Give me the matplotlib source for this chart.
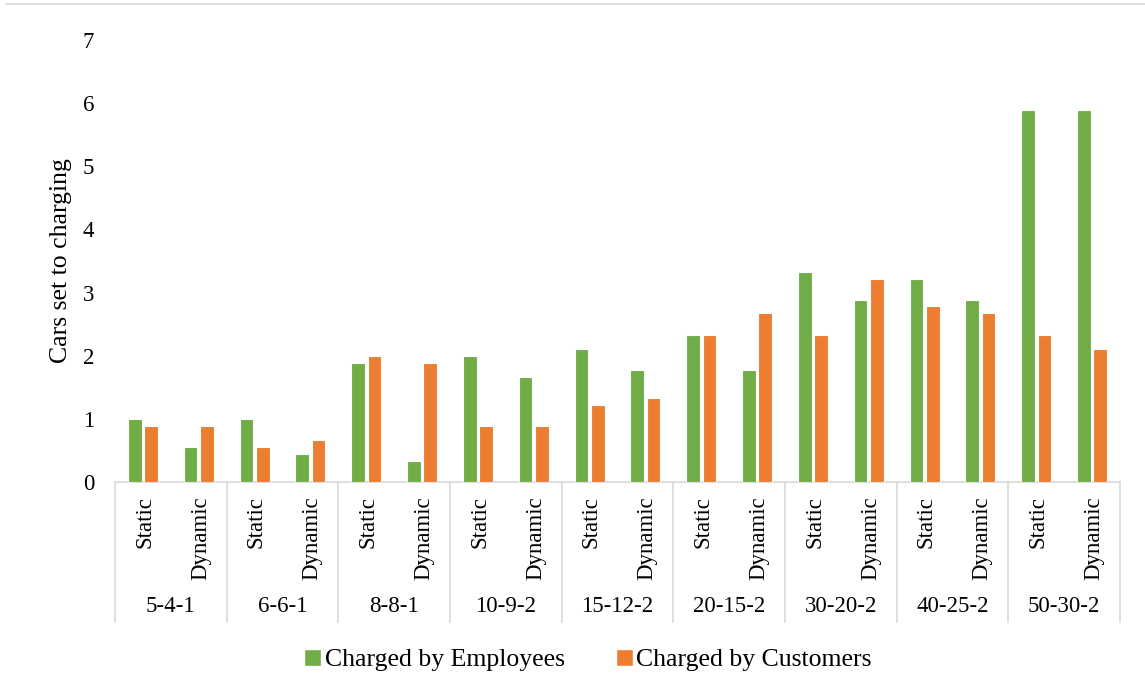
import matplotlib
matplotlib.use("Agg")
import matplotlib.pyplot as plt
from matplotlib.lines import Line2D
from matplotlib.patches import Patch
import matplotlib.transforms as mtransforms
import numpy as np

# Configurations (stations-chargers-staff) and charging modes
configs = ["5-4-1", "6-6-1", "8-8-1", "10-9-2", "15-12-2",
           "20-15-2", "30-20-2", "40-25-2", "50-30-2"]
modes = ["Static", "Dynamic"]

# Average number of cars set to charging, per configuration and mode
employees = [1.00, 0.56, 1.00, 0.44, 1.89, 0.33, 2.00, 1.67, 2.11,
             1.78, 2.33, 1.78, 3.33, 2.89, 3.22, 2.89, 5.89, 5.89]
customers = [0.89, 0.89, 0.56, 0.67, 2.00, 1.89, 0.89, 0.89, 1.22,
             1.33, 2.33, 2.67, 2.33, 3.22, 2.78, 2.67, 2.33, 2.11]

GREEN = "#70AD47"
ORANGE = "#ED7D31"
GRID = "#D9D9D9"
FONT = "Liberation Serif"

plt.rcParams["font.family"] = [FONT, "DejaVu Serif"]

W, H = 1145, 700
fig = plt.figure(figsize=(W / 100, H / 100), dpi=100)
ax = fig.add_axes([115 / W, 1 - 482 / H, (1120 - 115) / W, (482 - 40) / H])

n = len(employees)
x = np.arange(n)
bw = 0.245
off = 0.145
ax.bar(x - off, employees, bw, color=GREEN, edgecolor="white", linewidth=0.8, zorder=3)
ax.bar(x + off, customers, bw, color=ORANGE, edgecolor="white", linewidth=0.8, zorder=3)

ax.set_xlim(-0.5, n - 0.5)
ax.set_ylim(0, 7)
ax.set_yticks(range(0, 8))
ax.tick_params(axis="y", length=0, pad=15, labelsize=16.5)
ax.set_xticks([])
for s in ["top", "right", "left"]:
    ax.spines[s].set_visible(False)
ax.spines["bottom"].set_color(GRID)
ax.spines["bottom"].set_linewidth(1.2)

# Two-level category axis below the plot
px = 1 / (482 - 40)
trans = mtransforms.blended_transform_factory(ax.transData, ax.transAxes)
for i in range(n):
    ax.text(i + 0.03, -14 * px, modes[i % 2], transform=trans, rotation=90,
            ha="center", va="top", fontsize=16.5)
for g, name in enumerate(configs):
    ax.text(2 * g + 0.5, -125 * px, name, transform=trans,
            ha="center", va="center", fontsize=16.5)
for k in range(len(configs) + 1):
    ax.add_line(Line2D([2 * k - 0.5, 2 * k - 0.5], [0, -140 * px], transform=trans,
                       color=GRID, linewidth=1.2, clip_on=False))

fig.text(61 / W, 1 - 261 / H, "Cars set to charging", rotation=90,
         ha="center", va="center", fontsize=18.5)

handles = [Patch(facecolor=GREEN, edgecolor="white"),
           Patch(facecolor=ORANGE, edgecolor="white")]
fig.legend(handles, ["Charged by Employees", "Charged by Customers"],
           loc="center", bbox_to_anchor=(588 / W, 1 - 660 / H), ncol=2,
           frameon=False, fontsize=18.5, handlelength=0.65, handleheight=0.65,
           handletextpad=0.15, columnspacing=2.0)

fig.add_artist(Line2D([6 / W, 1], [1 - 4 / H, 1 - 4 / H], transform=fig.transFigure,
                      color=GRID, linewidth=1.2))

fig.savefig("out.png", dpi=100, facecolor="white")
